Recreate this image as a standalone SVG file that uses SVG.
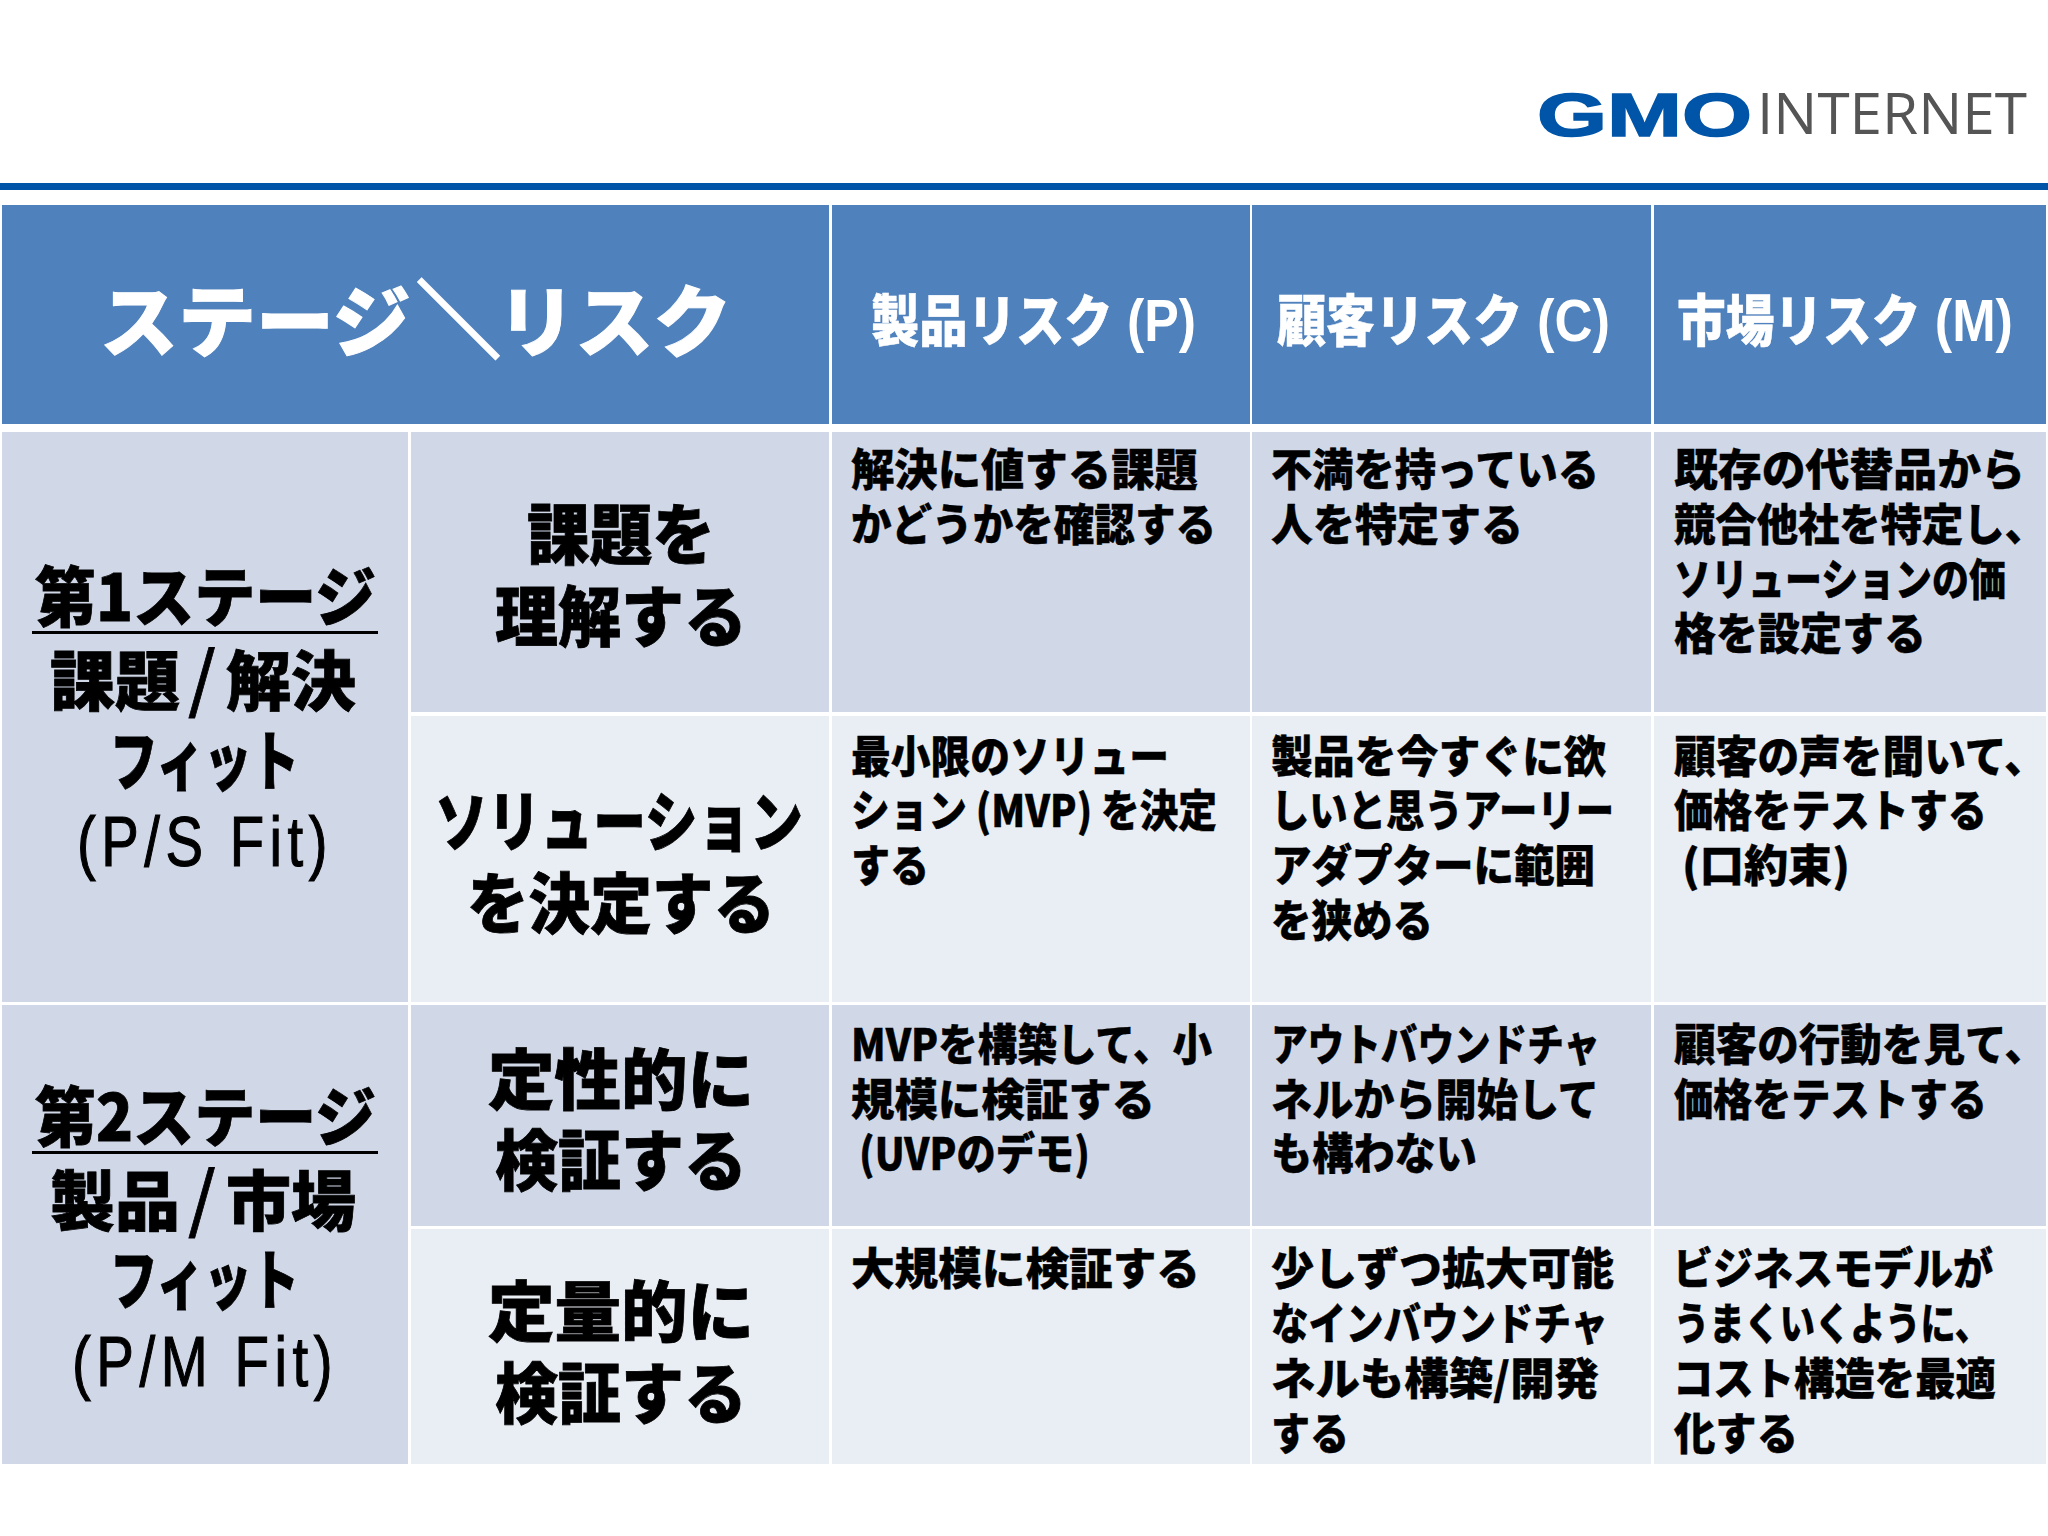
<svg xmlns="http://www.w3.org/2000/svg" width="2048" height="1536" viewBox="0 0 2048 1536">
<style>
text{font-family:"Noto Sans CJK JP","Liberation Sans",sans-serif;font-weight:900;fill:#000;white-space:pre}
.h{fill:#4F81BD}.d{fill:#D0D8E8}.l{fill:#E9EDF4}
.t0{font-size:78px;fill:#fff;stroke:#fff;stroke-width:1}.t1{font-size:56px;fill:#fff;stroke:#fff;stroke-width:.5}
.lat{font-family:"Liberation Sans",sans-serif;font-weight:700;font-size:60px;stroke-width:0}
.bs{font-size:84px;stroke-width:2.5}
.sl{font-size:72px;font-weight:500}
.s{font-size:65px;stroke:#000;stroke-width:.8}.c{font-size:66px;stroke:#000;stroke-width:.8}.b{font-size:44px;stroke:#000;stroke-width:.4}
.p{font-size:71px;font-weight:400;letter-spacing:7px;font-family:"Liberation Sans","Noto Sans CJK JP",sans-serif;stroke:#000;stroke-width:1.2}
.u{fill:#000}
</style>
<rect width="2048" height="1536" fill="#fff"/>
<g id="logo">
<text x="1537" y="136" textLength="215" lengthAdjust="spacingAndGlyphs" style="font-family:'Liberation Sans',sans-serif;font-weight:700;font-size:61px;fill:#0055A8;stroke:#0055A8;stroke-width:1.5">GMO</text>
<text x="1757" y="134" textLength="270" lengthAdjust="spacingAndGlyphs" style="font-family:'Open Sans',sans-serif;font-weight:400;font-size:57px;fill:#555">INTERNET</text>
</g>
<rect id="rule" x="0" y="183" width="2048" height="7" fill="#0055A8"/>

<g id="header">
<g id="h0"><rect class="h" x="2" y="205" width="827" height="219"/><text class="t0" x="100" y="351">ステージ<tspan class="bs" dx="6">＼</tspan><tspan dx="-3">リスク</tspan></text></g>
<g id="h1"><rect class="h" x="832" y="205" width="418" height="219"/><text class="t1" x="871" y="341" textLength="325" lengthAdjust="spacingAndGlyphs">製品リスク<tspan class="lat"> (P)</tspan></text></g>
<g id="h2"><rect class="h" x="1252" y="205" width="399" height="219"/><text class="t1" x="1277" y="341" textLength="333" lengthAdjust="spacingAndGlyphs">顧客リスク<tspan class="lat"> (C)</tspan></text></g>
<g id="h3"><rect class="h" x="1654" y="205" width="392" height="219"/><text class="t1" x="1677" y="341" textLength="336" lengthAdjust="spacingAndGlyphs">市場リスク<tspan class="lat"> (M)</tspan></text></g>
</g>

<g id="stage1">
<rect class="d" x="2" y="432" width="406" height="570"/>
<text class="s" x="35" y="621" textLength="341" lengthAdjust="spacingAndGlyphs">第1ステージ</text>
<rect class="u" x="32" y="631" width="346" height="3"/>
<text class="s" x="50" y="705">課題<tspan class="sl" dx="8">/</tspan><tspan dx="10">解決</tspan></text>
<text class="s" x="110" y="785" textLength="189" lengthAdjust="spacingAndGlyphs">フィット</text>
<text class="p" x="77" y="866" textLength="256" lengthAdjust="spacingAndGlyphs">(P/S Fit)</text>
</g>
<g id="stage2">
<rect class="d" x="2" y="1005" width="406" height="459"/>
<text class="s" x="35" y="1141" textLength="341" lengthAdjust="spacingAndGlyphs">第2ステージ</text>
<rect class="u" x="32" y="1151" width="346" height="3"/>
<text class="s" x="50" y="1225">製品<tspan class="sl" dx="8">/</tspan><tspan dx="10">市場</tspan></text>
<text class="s" x="110" y="1304" textLength="189" lengthAdjust="spacingAndGlyphs">フィット</text>
<text class="p" x="72" y="1386" textLength="266" lengthAdjust="spacingAndGlyphs">(P/M Fit)</text>
</g>

<g id="row1">
<g id="r1c1"><rect class="d" x="411" y="432" width="418" height="280"/>
<text class="c" x="527" y="559" textLength="188" lengthAdjust="spacingAndGlyphs">課題を</text>
<text class="c" x="495" y="641" textLength="252" lengthAdjust="spacingAndGlyphs">理解する</text></g>
<g id="r1c2"><rect class="d" x="832" y="432" width="418" height="280"/>
<text class="b" x="851" y="486" textLength="347" lengthAdjust="spacingAndGlyphs">解決に値する課題</text>
<text class="b" x="851" y="541" textLength="365" lengthAdjust="spacingAndGlyphs">かどうかを確認する</text></g>
<g id="r1c3"><rect class="d" x="1252" y="432" width="399" height="280"/>
<text class="b" x="1271" y="486" textLength="328" lengthAdjust="spacingAndGlyphs">不満を持っている</text>
<text class="b" x="1271" y="541" textLength="252" lengthAdjust="spacingAndGlyphs">人を特定する</text></g>
<g id="r1c4"><rect class="d" x="1654" y="432" width="392" height="280"/>
<text class="b" x="1674" y="486" textLength="351" lengthAdjust="spacingAndGlyphs">既存の代替品から</text>
<text class="b" x="1674" y="541" textLength="372" lengthAdjust="spacingAndGlyphs">競合他社を特定し、</text>
<text class="b" x="1674" y="596" textLength="332" lengthAdjust="spacingAndGlyphs">ソリューションの価</text>
<text class="b" x="1674" y="650" textLength="252" lengthAdjust="spacingAndGlyphs">格を設定する</text></g>
</g>

<g id="row2">
<g id="r2c1"><rect class="l" x="411" y="716" width="418" height="286"/>
<text class="c" x="435" y="846" textLength="368" lengthAdjust="spacingAndGlyphs">ソリューション</text>
<text class="c" x="467" y="928" textLength="308" lengthAdjust="spacingAndGlyphs">を決定する</text></g>
<g id="r2c2"><rect class="l" x="832" y="716" width="418" height="286"/>
<text class="b" x="851" y="773" textLength="318" lengthAdjust="spacingAndGlyphs">最小限のソリュー</text>
<text class="b" x="851" y="827" textLength="366" lengthAdjust="spacingAndGlyphs">ション (MVP) を決定</text>
<text class="b" x="851" y="882" textLength="78" lengthAdjust="spacingAndGlyphs">する</text></g>
<g id="r2c3"><rect class="l" x="1252" y="716" width="399" height="286"/>
<text class="b" x="1271" y="773" textLength="335" lengthAdjust="spacingAndGlyphs">製品を今すぐに欲</text>
<text class="b" x="1271" y="827" textLength="343" lengthAdjust="spacingAndGlyphs">しいと思うアーリー</text>
<text class="b" x="1271" y="882" textLength="324" lengthAdjust="spacingAndGlyphs">アダプターに範囲</text>
<text class="b" x="1271" y="937" textLength="162" lengthAdjust="spacingAndGlyphs">を狭める</text></g>
<g id="r2c4"><rect class="l" x="1654" y="716" width="392" height="286"/>
<text class="b" x="1674" y="773" textLength="372" lengthAdjust="spacingAndGlyphs">顧客の声を聞いて、</text>
<text class="b" x="1674" y="827" textLength="313" lengthAdjust="spacingAndGlyphs">価格をテストする</text>
<text class="b" x="1682" y="882" textLength="168" lengthAdjust="spacingAndGlyphs">(口約束)</text></g>
</g>

<g id="row3">
<g id="r3c1"><rect class="d" x="411" y="1005" width="418" height="221"/>
<text class="c" x="488" y="1104" textLength="266" lengthAdjust="spacingAndGlyphs">定性的に</text>
<text class="c" x="495" y="1185" textLength="252" lengthAdjust="spacingAndGlyphs">検証する</text></g>
<g id="r3c2"><rect class="d" x="832" y="1005" width="418" height="221"/>
<text class="b" x="851" y="1061" textLength="361" lengthAdjust="spacingAndGlyphs">MVPを構築して、小</text>
<text class="b" x="851" y="1116" textLength="304" lengthAdjust="spacingAndGlyphs">規模に検証する</text>
<text class="b" x="859" y="1170" textLength="231" lengthAdjust="spacingAndGlyphs">(UVPのデモ)</text></g>
<g id="r3c3"><rect class="d" x="1252" y="1005" width="399" height="221"/>
<text class="b" x="1271" y="1061" textLength="329" lengthAdjust="spacingAndGlyphs">アウトバウンドチャ</text>
<text class="b" x="1271" y="1116" textLength="328" lengthAdjust="spacingAndGlyphs">ネルから開始して</text>
<text class="b" x="1271" y="1170" textLength="206" lengthAdjust="spacingAndGlyphs">も構わない</text></g>
<g id="r3c4"><rect class="d" x="1654" y="1005" width="392" height="221"/>
<text class="b" x="1674" y="1061" textLength="372" lengthAdjust="spacingAndGlyphs">顧客の行動を見て、</text>
<text class="b" x="1674" y="1116" textLength="313" lengthAdjust="spacingAndGlyphs">価格をテストする</text></g>
</g>

<g id="row4">
<g id="r4c1"><rect class="l" x="411" y="1229" width="418" height="235"/>
<text class="c" x="488" y="1336" textLength="266" lengthAdjust="spacingAndGlyphs">定量的に</text>
<text class="c" x="495" y="1418" textLength="252" lengthAdjust="spacingAndGlyphs">検証する</text></g>
<g id="r4c2"><rect class="l" x="832" y="1229" width="418" height="235"/>
<text class="b" x="851" y="1285" textLength="349" lengthAdjust="spacingAndGlyphs">大規模に検証する</text></g>
<g id="r4c3"><rect class="l" x="1252" y="1229" width="399" height="235"/>
<text class="b" x="1271" y="1285" textLength="343" lengthAdjust="spacingAndGlyphs">少しずつ拡大可能</text>
<text class="b" x="1271" y="1340" textLength="337" lengthAdjust="spacingAndGlyphs">なインバウンドチャ</text>
<text class="b" x="1271" y="1395" textLength="328" lengthAdjust="spacingAndGlyphs">ネルも構築/開発</text>
<text class="b" x="1271" y="1450" textLength="78" lengthAdjust="spacingAndGlyphs">する</text></g>
<g id="r4c4"><rect class="l" x="1654" y="1229" width="392" height="235"/>
<text class="b" x="1673" y="1285" textLength="320" lengthAdjust="spacingAndGlyphs">ビジネスモデルが</text>
<text class="b" x="1674" y="1340" textLength="316" lengthAdjust="spacingAndGlyphs">うまくいくように、</text>
<text class="b" x="1673" y="1395" textLength="323" lengthAdjust="spacingAndGlyphs">コスト構造を最適</text>
<text class="b" x="1674" y="1450" textLength="124" lengthAdjust="spacingAndGlyphs">化する</text></g>
</g>
</svg>
